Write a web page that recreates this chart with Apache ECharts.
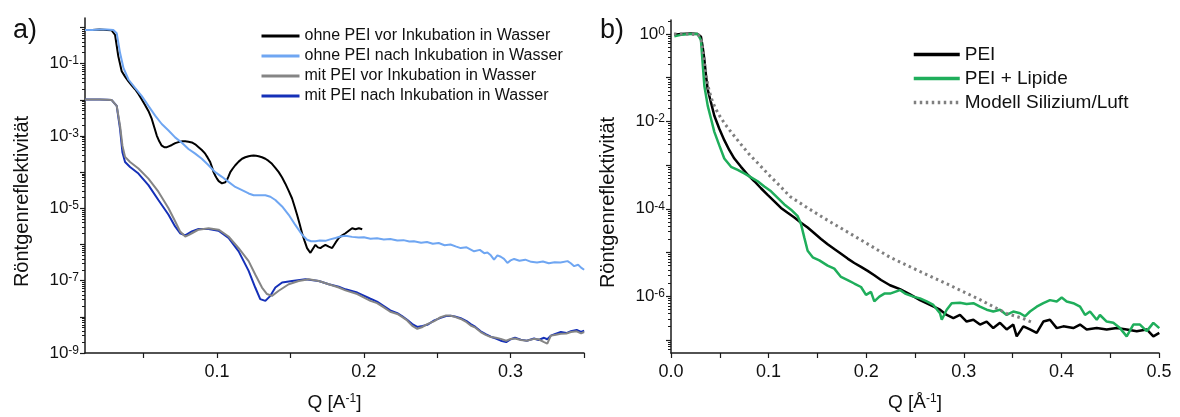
<!DOCTYPE html>
<html><head><meta charset="utf-8">
<script src="https://cdn.jsdelivr.net/npm/echarts@6/dist/echarts.min.js"></script>
<style>html,body{margin:0;padding:0;background:#fff}#c{width:1180px;height:417px}</style>
</head><body><div id="c"></div><script>
// ---------- Panel a) : Q [1/A] and log10(reflectivity) ----------
const aOhneVorQ = [0.010,0.015,0.020,0.025,0.0282,0.0305,0.0327,0.0350,0.0373,0.0396,0.0418,0.0441,0.0464,0.0487,0.0510,0.0532,0.0555,0.0572,0.0589,0.0606,0.0623,0.0640,0.0658,0.0675,0.0692,0.0715,0.0737,0.0760,0.0783,0.0805,0.0828,0.0851,0.0874,0.0896,0.0919,0.0936,0.0953,0.0965,0.0976,0.0988,0.0999,0.1011,0.1022,0.1033,0.1044,0.1056,0.1067,0.1078,0.1090,0.1107,0.1124,0.1147,0.1170,0.1192,0.1215,0.1232,0.1249,0.1266,0.1283,0.1306,0.1329,0.1351,0.1374,0.1397,0.1420,0.1443,0.1465,0.1488,0.1511,0.1528,0.1545,0.1562,0.1579,0.1596,0.1613,0.1625,0.1636,0.1653,0.1670,0.1687,0.1704,0.1721,0.1738,0.1761,0.1784,0.1807,0.1829,0.1852,0.1875,0.1897,0.1920,0.1943,0.1966,0.1989];
const aOhneVorLogR = [-0.07,-0.07,-0.06,-0.07,-0.08,-0.21,-0.80,-1.21,-1.36,-1.49,-1.60,-1.71,-1.84,-1.99,-2.15,-2.31,-2.53,-2.76,-2.99,-3.15,-3.27,-3.31,-3.31,-3.28,-3.25,-3.20,-3.17,-3.15,-3.15,-3.16,-3.18,-3.23,-3.31,-3.39,-3.49,-3.60,-3.72,-3.86,-4.00,-4.10,-4.18,-4.25,-4.29,-4.31,-4.32,-4.28,-4.22,-4.12,-4.00,-3.90,-3.81,-3.71,-3.63,-3.59,-3.56,-3.55,-3.54,-3.55,-3.56,-3.59,-3.63,-3.69,-3.77,-3.88,-4.00,-4.15,-4.32,-4.52,-4.73,-4.95,-5.18,-5.43,-5.69,-5.90,-6.10,-6.17,-6.23,-6.12,-6.01,-6.08,-6.10,-6.05,-6.01,-6.06,-6.10,-5.95,-5.82,-5.75,-5.69,-5.62,-5.55,-5.58,-5.55,-5.58];

const aOhneNachQ = [0.010,0.015,0.020,0.025,0.0293,0.0316,0.0339,0.0362,0.0396,0.0441,0.0487,0.0532,0.0578,0.0623,0.0669,0.0714,0.0760,0.0805,0.0851,0.0896,0.0942,0.0987,0.1033,0.1078,0.1124,0.1170,0.1215,0.1249,0.1290,0.1329,0.1363,0.1397,0.1443,0.1488,0.1533,0.1579,0.1613,0.1640,0.1670,0.1700,0.1738,0.1770,0.1807,0.1840,0.1875,0.1920,0.1965,0.2000,0.2045,0.2090,0.2136,0.2180,0.2228,0.2270,0.2310,0.2341,0.2390,0.2430,0.2470,0.2510,0.2550,0.2590,0.2630,0.2660,0.2700,0.2751,0.2790,0.2820,0.2842,0.2865,0.2887,0.2910,0.2933,0.2955,0.2978,0.3000,0.3024,0.3060,0.3100,0.3140,0.3180,0.3220,0.3260,0.3300,0.3340,0.3388,0.3410,0.3433,0.3460,0.3480,0.3501];
const aOhneNachLogR = [-0.07,-0.07,-0.06,-0.06,-0.07,-0.16,-0.71,-1.12,-1.44,-1.67,-1.90,-2.17,-2.44,-2.67,-2.85,-3.04,-3.19,-3.36,-3.49,-3.63,-3.81,-4.00,-4.13,-4.27,-4.41,-4.50,-4.59,-4.64,-4.64,-4.64,-4.68,-4.77,-4.95,-5.18,-5.46,-5.73,-5.87,-5.91,-5.91,-5.89,-5.90,-5.86,-5.82,-5.78,-5.76,-5.79,-5.81,-5.80,-5.84,-5.83,-5.86,-5.85,-5.89,-5.88,-5.92,-5.91,-5.95,-5.93,-5.98,-5.96,-6.02,-6.00,-6.06,-6.10,-6.08,-6.19,-6.15,-6.24,-6.22,-6.30,-6.42,-6.30,-6.34,-6.40,-6.51,-6.44,-6.40,-6.45,-6.42,-6.48,-6.50,-6.47,-6.52,-6.49,-6.50,-6.46,-6.52,-6.60,-6.56,-6.64,-6.70];

const aMitVorQ = [0.010,0.015,0.020,0.025,0.0282,0.0316,0.0339,0.0355,0.0373,0.0407,0.0464,0.0532,0.0600,0.0669,0.0714,0.0748,0.0783,0.0805,0.0828,0.0874,0.0942,0.1010,0.1078,0.1147,0.1215,0.1260,0.1306,0.1340,0.1374,0.1420,0.1488,0.1556,0.1624,0.1693,0.1761,0.1829,0.1875,0.1955,0.2045,0.2090,0.2136,0.2180,0.2228,0.2260,0.2295,0.2330,0.2364,0.2400,0.2432,0.2480,0.2523,0.2560,0.2591,0.2620,0.2660,0.2700,0.2728,0.2760,0.2796,0.2830,0.2865,0.2900,0.2933,0.2970,0.3001,0.3030,0.3069,0.3110,0.3160,0.3190,0.3228,0.3250,0.3274,0.3300,0.3342,0.3380,0.3411,0.3450,0.3480,0.3501];
const aMitVorLogR = [-1.99,-1.99,-1.99,-2.00,-2.01,-2.17,-2.72,-3.27,-3.58,-3.72,-3.90,-4.18,-4.54,-5.00,-5.36,-5.64,-5.78,-5.74,-5.69,-5.59,-5.55,-5.59,-5.78,-6.10,-6.46,-6.83,-7.19,-7.37,-7.42,-7.28,-7.10,-7.01,-6.96,-7.01,-7.10,-7.19,-7.27,-7.37,-7.56,-7.62,-7.74,-7.86,-7.92,-8.00,-8.10,-8.25,-8.33,-8.28,-8.20,-8.12,-8.01,-7.96,-7.97,-8.00,-8.06,-8.15,-8.24,-8.30,-8.42,-8.50,-8.56,-8.58,-8.61,-8.66,-8.61,-8.60,-8.64,-8.66,-8.61,-8.62,-8.70,-8.74,-8.52,-8.50,-8.47,-8.46,-8.42,-8.40,-8.46,-8.42];

const aMitNachQ = [0.010,0.015,0.020,0.025,0.0282,0.0316,0.0339,0.0355,0.0373,0.0407,0.0464,0.0532,0.0600,0.0669,0.0714,0.0748,0.0783,0.0828,0.0874,0.0942,0.1010,0.1078,0.1147,0.1215,0.1260,0.1294,0.1329,0.1363,0.1397,0.1443,0.1511,0.1602,0.1693,0.1761,0.1829,0.1875,0.1955,0.2045,0.2090,0.2136,0.2180,0.2228,0.2260,0.2295,0.2330,0.2364,0.2400,0.2432,0.2480,0.2523,0.2560,0.2591,0.2620,0.2660,0.2700,0.2728,0.2760,0.2796,0.2830,0.2865,0.2900,0.2933,0.2970,0.3001,0.3030,0.3069,0.3110,0.3160,0.3190,0.3228,0.3250,0.3274,0.3300,0.3342,0.3380,0.3411,0.3450,0.3480,0.3501];
const aMitNachLogR = [-1.99,-1.99,-1.99,-2.00,-2.01,-2.17,-2.81,-3.45,-3.72,-3.86,-4.04,-4.36,-4.77,-5.18,-5.50,-5.69,-5.75,-5.64,-5.57,-5.57,-5.62,-5.82,-6.19,-6.73,-7.19,-7.51,-7.56,-7.42,-7.19,-7.05,-7.01,-6.96,-7.01,-7.10,-7.17,-7.24,-7.33,-7.50,-7.58,-7.70,-7.82,-7.90,-7.98,-8.08,-8.20,-8.28,-8.25,-8.22,-8.10,-8.03,-7.98,-7.97,-7.99,-8.04,-8.12,-8.20,-8.28,-8.40,-8.48,-8.55,-8.60,-8.66,-8.70,-8.62,-8.58,-8.63,-8.66,-8.60,-8.64,-8.58,-8.62,-8.52,-8.48,-8.42,-8.45,-8.40,-8.36,-8.42,-8.38];

// ---------- Panel b) ----------
const bPeiQ = [0.0034,0.0102,0.0205,0.0273,0.0307,0.0324,0.0342,0.0359,0.0376,0.0410,0.0444,0.0495,0.0546,0.0598,0.0649,0.0717,0.0786,0.0854,0.0922,0.0990,0.1059,0.1127,0.1195,0.1264,0.1332,0.1400,0.1469,0.1537,0.1605,0.1673,0.1742,0.1810,0.1878,0.1947,0.2015,0.2083,0.2152,0.2244,0.2346,0.2449,0.2551,0.2654,0.2756,0.2825,0.2893,0.2961,0.3029,0.3098,0.3166,0.3234,0.3302,0.3371,0.3439,0.3507,0.3542,0.3610,0.3678,0.3747,0.3815,0.3883,0.3952,0.4020,0.4122,0.4191,0.4259,0.4362,0.4464,0.4567,0.4669,0.4772,0.4874,0.4942,0.5003];
const bPeiLogR = [-0.02,0.00,0.01,0.00,-0.06,-0.29,-0.59,-0.96,-1.27,-1.57,-1.87,-2.17,-2.43,-2.66,-2.85,-3.04,-3.22,-3.37,-3.53,-3.68,-3.83,-3.98,-4.09,-4.20,-4.32,-4.43,-4.56,-4.69,-4.81,-4.92,-5.03,-5.14,-5.24,-5.33,-5.42,-5.52,-5.63,-5.75,-5.84,-5.96,-6.09,-6.20,-6.31,-6.43,-6.50,-6.43,-6.58,-6.54,-6.65,-6.58,-6.73,-6.61,-6.76,-6.65,-6.92,-6.69,-6.76,-6.84,-6.58,-6.54,-6.73,-6.69,-6.73,-6.65,-6.76,-6.73,-6.76,-6.73,-6.76,-6.80,-6.76,-6.92,-6.84];

const bLipQ = [0.0034,0.0102,0.0205,0.0273,0.0307,0.0324,0.0342,0.0376,0.0410,0.0444,0.0495,0.0546,0.0615,0.0683,0.0751,0.0820,0.0888,0.0956,0.1025,0.1093,0.1161,0.1230,0.1298,0.1332,0.1366,0.1400,0.1452,0.1520,0.1605,0.1673,0.1742,0.1810,0.1878,0.1947,0.1998,0.2049,0.2083,0.2135,0.2186,0.2244,0.2346,0.2398,0.2483,0.2551,0.2620,0.2688,0.2756,0.2774,0.2825,0.2876,0.2961,0.3029,0.3098,0.3166,0.3234,0.3302,0.3371,0.3439,0.3507,0.3576,0.3627,0.3678,0.3747,0.3815,0.3883,0.3952,0.4003,0.4054,0.4122,0.4191,0.4242,0.4293,0.4362,0.4395,0.4464,0.4532,0.4600,0.4669,0.4737,0.4805,0.4874,0.4942,0.5003];
const bLipLogR = [-0.05,-0.02,0.00,0.00,-0.14,-0.66,-1.19,-1.64,-1.94,-2.24,-2.55,-2.85,-3.04,-3.11,-3.19,-3.28,-3.37,-3.49,-3.60,-3.75,-3.90,-4.02,-4.17,-4.35,-4.66,-4.96,-5.11,-5.18,-5.30,-5.37,-5.56,-5.63,-5.71,-5.79,-5.97,-5.90,-6.12,-6.01,-5.94,-5.94,-5.86,-5.94,-6.01,-6.05,-6.12,-6.20,-6.39,-6.54,-6.31,-6.16,-6.15,-6.18,-6.16,-6.24,-6.31,-6.35,-6.31,-6.43,-6.35,-6.39,-6.46,-6.35,-6.24,-6.16,-6.09,-6.12,-6.03,-6.12,-6.16,-6.24,-6.43,-6.35,-6.54,-6.43,-6.58,-6.61,-6.73,-6.92,-6.65,-6.65,-6.80,-6.61,-6.73];

const bModelQ = [0.003,0.010,0.020,0.028,0.031,0.0325,0.034,0.036,0.038,0.041,0.045,0.050,0.055,0.060,0.070,0.080,0.090,0.100,0.110,0.122,0.140,0.1557,0.1906,0.2244,0.2480,0.2828,0.3166,0.3443,0.3607,0.3700];
const bModelLogR = [0.00,0.00,0.00,-0.02,-0.15,-0.35,-0.62,-0.95,-1.20,-1.45,-1.68,-1.88,-2.05,-2.20,-2.48,-2.75,-2.98,-3.22,-3.44,-3.72,-3.98,-4.20,-4.66,-5.11,-5.36,-5.72,-6.08,-6.40,-6.51,-6.60];

// ---------- axis ticks / labels ----------
const aXTicks = [0.05,0.10,0.15,0.20,0.25,0.30,0.35];
const aXLabels = [0.1,0.2,0.3];
const aYDecades = [-9,-8,-7,-6,-5,-4,-3,-2,-1,0];
const aYLabels = [-9,-7,-5,-3,-1];
const bXTicks = [0,0.05,0.10,0.15,0.20,0.25,0.30,0.35,0.40,0.45,0.50];
const bXLabels = [0,0.1,0.2,0.3,0.4,0.5];
const bYDecades = [-7,-6,-5,-4,-3,-2,-1,0];
const bYLabels = [-6,-4,-2,0];

const legendA = ['ohne PEI vor Inkubation in Wasser','ohne PEI nach Inkubation in Wasser','mit PEI vor Inkubation in Wasser','mit PEI nach Inkubation in Wasser'];
const legendB = ['PEI','PEI + Lipide','Modell Silizium/Luft'];

const FONT = "'Liberation Sans', Arial, sans-serif";
const pairs = (q, l) => q.map((v, i) => [v, l[i]]);
function minors(lo, hi) {
  const out = [];
  for (let n = Math.floor(lo) - 1; n <= Math.ceil(hi); n++)
    for (let k = 2; k <= 9; k++) { const v = n + Math.log10(k); if (v >= lo && v <= hi) out.push(v); }
  return out;
}
const AX = { lineStyle: { color: '#1a1a1a', width: 1.5 } };
const yLabelFmt = v => '{b|10}{s|' + Math.round(v) + '}';
const yRich = { b: { fontSize: 17, fontFamily: FONT, color: '#111' }, s: { fontSize: 12, fontFamily: FONT, color: '#111', verticalAlign: 'top' } };

function yMajor(grid, min, max, dec, labels) {
  return { type: 'value', gridIndex: grid, position: 'left', min, max, splitLine: { show: false },
    name: 'Röntgenreflektivität', nameLocation: 'middle', nameRotate: 90, nameGap: 53,
    nameTextStyle: { fontSize: 20, fontFamily: FONT, color: '#111', padding: [0, 32, 0, 0] },
    axisLine: Object.assign({ show: true }, AX),
    axisTick: { show: true, length: 5, customValues: dec, lineStyle: { color: '#1a1a1a', width: 1.2 } },
    axisLabel: { customValues: labels, formatter: yLabelFmt, rich: yRich, margin: 6 } };
}
function yMinor(grid, min, max) {
  return { type: 'value', gridIndex: grid, position: 'left', min, max, splitLine: { show: false },
    axisLine: { show: false }, axisLabel: { show: false },
    axisTick: { show: true, length: 3, customValues: minors(min, max), lineStyle: { color: '#1a1a1a', width: 1 } } };
}
function xAx(grid, min, max, ticks, labels, nameTxt) {
  return { type: 'value', gridIndex: grid, min, max, splitLine: { show: false },
    name: nameTxt, nameLocation: 'middle', nameGap: 40,
    nameTextStyle: { fontSize: 19, fontFamily: FONT, color: '#111', rich: { s: { fontSize: 12, fontFamily: FONT, color: '#111', verticalAlign: 'top' } } },
    axisLine: Object.assign({ show: true, onZero: false }, AX),
    axisTick: { show: true, length: 5, customValues: ticks, lineStyle: { color: '#1a1a1a', width: 1.2 } },
    axisLabel: { customValues: labels, formatter: v => v.toFixed(1), fontSize: 18, fontFamily: FONT, color: '#111', margin: 10 } };
}
function line(name, xi, yi, data, color, width, type) {
  return { name, type: 'line', xAxisIndex: xi, yAxisIndex: yi, data, symbol: 'none', showSymbol: false, color,
    lineStyle: { color, width, type: type || 'solid' }, animation: false, silent: true };
}

const chart = echarts.init(document.getElementById('c'), null, { renderer: 'canvas' });
chart.setOption({
  backgroundColor: '#fff',
  animation: false,
  title: [
    { text: 'a)', left: 8, top: 12, textStyle: { fontSize: 27, fontWeight: 'normal', fontFamily: FONT, color: '#111' } },
    { text: 'b)', left: 595, top: 12, textStyle: { fontSize: 27, fontWeight: 'normal', fontFamily: FONT, color: '#111' } }
  ],
  grid: [
    { left: 85, top: 18, width: 499, height: 338 },
    { left: 671, top: 20, width: 488, height: 337 }
  ],
  xAxis: [
    xAx(0, 0.01, 0.35, aXTicks, aXLabels, 'Q [A{s|-1}]'),
    xAx(1, 0, 0.5, bXTicks, bXLabels, 'Q [Å{s|-1}]')
  ],
  yAxis: [
    yMajor(0, -9, 0.26, aYDecades, aYLabels), yMinor(0, -9, 0.26),
    yMajor(1, -7.3, 0.32, bYDecades, bYLabels), yMinor(1, -7.3, 0.32)
  ],
  legend: [
    { data: legendA, orient: 'vertical', left: 255, top: 23, itemWidth: 38, itemHeight: 16, itemGap: 4,
      itemStyle: { opacity: 0 }, lineStyle: { width: 3 },
      textStyle: { fontSize: 16, lineHeight: 16, fontFamily: FONT, color: '#111' }, selectedMode: false },
    { data: legendB, orient: 'vertical', left: 907, top: 40, itemWidth: 46, itemHeight: 19, itemGap: 5,
      itemStyle: { opacity: 0 }, lineStyle: { width: 3.5 },
      textStyle: { fontSize: 19, lineHeight: 19, fontFamily: FONT, color: '#111' }, selectedMode: false }
  ],
  series: [
    line(legendA[0], 0, 0, pairs(aOhneVorQ, aOhneVorLogR), '#000000', 2),
    line(legendA[1], 0, 0, pairs(aOhneNachQ, aOhneNachLogR), '#6fa6f2', 2),
    line(legendA[3], 0, 0, pairs(aMitNachQ, aMitNachLogR), '#1530b8', 2),
    line(legendA[2], 0, 0, pairs(aMitVorQ, aMitVorLogR), '#858585', 2),
    line(legendB[0], 1, 2, pairs(bPeiQ, bPeiLogR), '#000000', 2.5),
    line(legendB[1], 1, 2, pairs(bLipQ, bLipLogR), '#1fae5b', 2.5),
    line(legendB[2], 1, 2, pairs(bModelQ, bModelLogR), '#7f7f7f', 3, [2.5, 3.5])
  ]
});
</script></body></html>
